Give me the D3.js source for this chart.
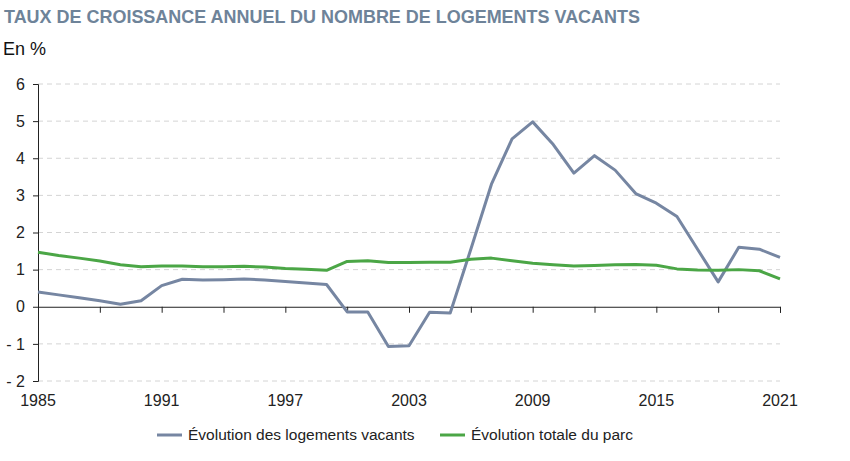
<!DOCTYPE html>
<html>
<head>
<meta charset="utf-8">
<script src="https://cdn.jsdelivr.net/npm/d3@7"></script>
<style>
  body { margin: 0; background: #fff; }
  text { font-family: "Liberation Sans", Arial, Helvetica, sans-serif; }
</style>
</head>
<body>
<svg id="chart" width="850" height="461"></svg>
<script>
const years = d3.range(1985, 2022);
const vacants = [0.40, 0.32, 0.24, 0.16, 0.07, 0.16, 0.57, 0.74, 0.72, 0.73, 0.75, 0.72, 0.68, 0.64, 0.60,
  -0.14, -0.14, -1.07, -1.05, -0.15, -0.17, 1.55, 3.30, 4.52, 4.98, 4.37, 3.60, 4.07, 3.68, 3.05,
  2.79, 2.43, 1.55, 0.67, 1.60, 1.55, 1.33];
const parc = [1.47, 1.38, 1.31, 1.23, 1.13, 1.08, 1.10, 1.10, 1.08, 1.08, 1.09, 1.07, 1.03, 1.01, 0.98,
  1.22, 1.24, 1.19, 1.19, 1.20, 1.20, 1.28, 1.31, 1.24, 1.17, 1.13, 1.10, 1.11, 1.13, 1.14,
  1.12, 1.02, 0.99, 0.98, 1.00, 0.97, 0.75];
const yTicks = [-2, -1, 0, 1, 2, 3, 4, 5, 6];
const xTickYears = d3.range(1985, 2022, 3);
const xLabelYears = [1985, 1991, 1997, 2003, 2009, 2015, 2021];
const seriesNames = ["Évolution des logements vacants", "Évolution totale du parc"];
const colors = ["#7686a2", "#4ba646"];

const svg = d3.select("#chart");
const x = d3.scaleLinear().domain([1985, 2021]).range([38, 780]);
const y = d3.scaleLinear().domain([-2, 6]).range([381, 84]);

svg.append("text").attr("x", 4).attr("y", 23)
  .attr("font-size", 17.5).attr("font-weight", "bold").attr("fill", "#6e8399")
  .attr("textLength", 636).attr("lengthAdjust", "spacingAndGlyphs")
  .text("TAUX DE CROISSANCE ANNUEL DU NOMBRE DE LOGEMENTS VACANTS");
svg.append("text").attr("x", 3).attr("y", 55)
  .attr("font-size", 18).attr("fill", "#111")
  .text("En %");

// grid
svg.append("g").selectAll("line").data(yTicks.filter(d => d !== 0)).join("line")
  .attr("x1", x(1985)).attr("x2", x(2021))
  .attr("y1", d => y(d)).attr("y2", d => y(d))
  .attr("stroke", "#d4d4d4").attr("stroke-width", 1).attr("stroke-dasharray", "5,4");

// y axis
const yAxis = d3.axisLeft(y).tickValues(yTicks).tickSize(5).tickPadding(8)
  .tickFormat(d => d < 0 ? "- " + Math.abs(d) : String(d));
const gy = svg.append("g").attr("transform", `translate(${x(1985)},0)`).call(yAxis);
gy.select(".domain").attr("stroke", "#222");
gy.selectAll(".tick line").attr("stroke", "#222");
gy.selectAll("text").attr("font-size", 16).attr("fill", "#222")
  .style("font-family", '"Liberation Sans", Arial, sans-serif');

// x axis at 0
const xAxis = d3.axisBottom(x).tickValues(xTickYears).tickSize(6).tickFormat("");
const gx = svg.append("g").attr("transform", `translate(0,${y(0)})`).call(xAxis);
gx.select(".domain").attr("stroke", "#222");
gx.selectAll(".tick line").attr("stroke", "#222");

svg.append("g").selectAll("text").data(xLabelYears).join("text")
  .attr("x", d => x(d)).attr("y", 406)
  .attr("text-anchor", "middle").attr("font-size", 16).attr("fill", "#222")
  .text(d => d);

const line = d3.line().x((d, i) => x(years[i])).y(d => y(d));
[vacants, parc].forEach((s, k) => {
  svg.append("path").datum(s).attr("d", line)
    .attr("fill", "none").attr("stroke", colors[k]).attr("stroke-width", 3)
    .attr("stroke-linejoin", "round");
});

// legend
const leg = [{x: 157, name: seriesNames[0], c: colors[0]}, {x: 440, name: seriesNames[1], c: colors[1]}];
leg.forEach(l => {
  svg.append("line").attr("x1", l.x).attr("x2", l.x + 25).attr("y1", 435).attr("y2", 435)
    .attr("stroke", l.c).attr("stroke-width", 3);
  svg.append("text").attr("x", l.x + 31).attr("y", 440).attr("font-size", 15.5).attr("fill", "#222")
    .text(l.name);
});
</script>
</body>
</html>
